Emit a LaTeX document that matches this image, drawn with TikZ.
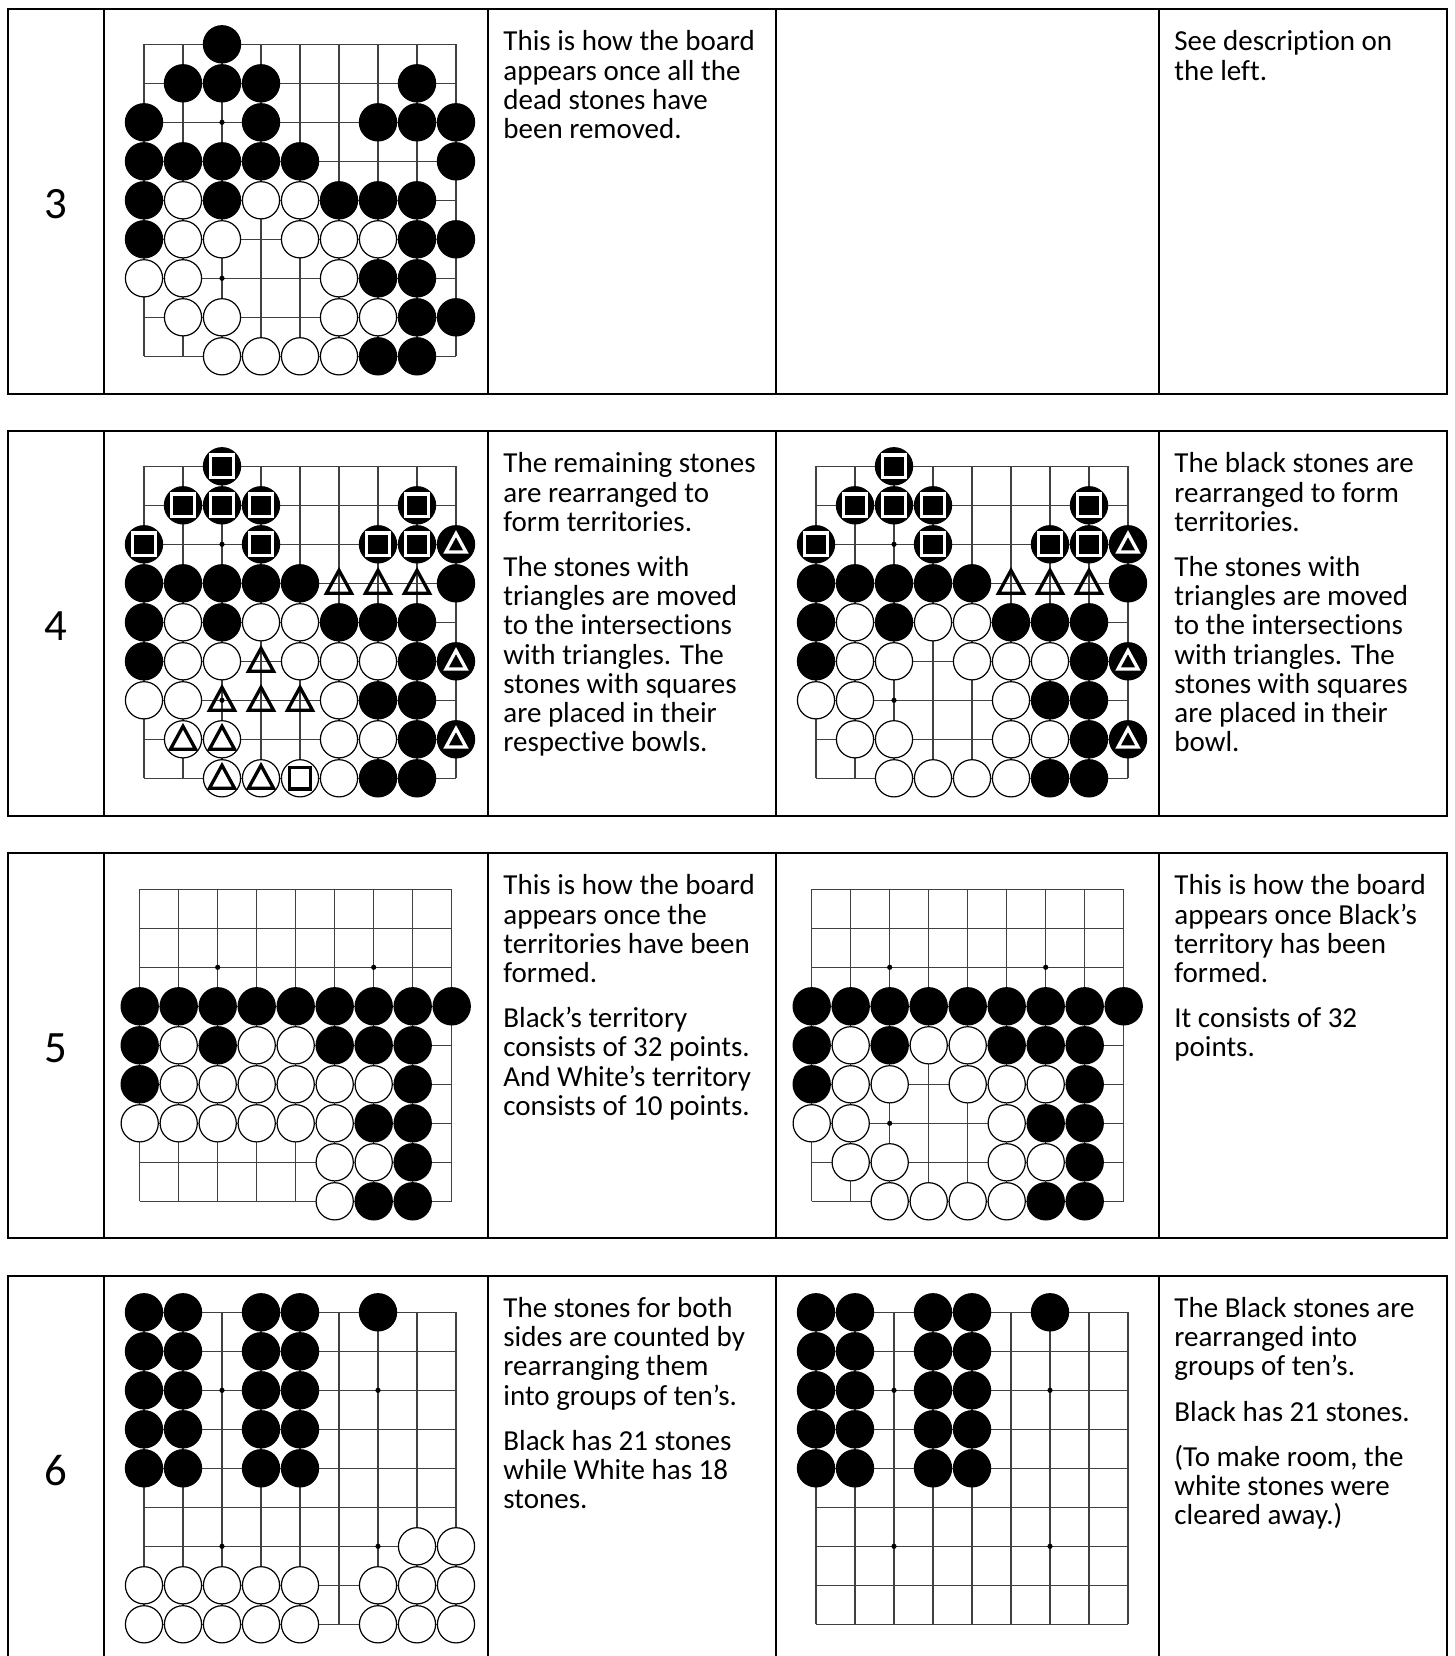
\documentclass[tikz,border=0pt]{standalone}
\usepackage{fontspec}
\setmainfont[Ligatures=NoCommon]{Carlito}
\tikzset{
  gridl/.style={line width=0.65pt, black!75},
  tbl/.style={line width=1pt},
  txt/.style={font=\fontsize{14.5}{14.6}\selectfont, align=left, anchor=north west, inner sep=0pt},
  num/.style={font=\fontsize{22.4}{26}\selectfont, inner sep=0pt},
}
\newcommand\topstrut{\rule{0pt}{12pt}}
\newcommand\gogrid{%
  \foreach \i in {0,...,8}{\draw[gridl] (\i*39,0) -- (\i*39,312); \draw[gridl] (0,\i*39) -- (312,\i*39);}
  \foreach \a/\b in {2/2,6/2,2/6,6/6}{\fill (\a*39,\b*39) circle[radius=1.3pt];}}
\newcommand\bstones[1]{\foreach \a/\b in {#1}{\fill (\a*39,\b*39) circle[radius=9.6pt];}}
\newcommand\wstones[1]{\foreach \a/\b in {#1}{\draw[line width=0.6pt,fill=white] (\a*39,\b*39) circle[radius=9.3pt];}}
\newcommand\sqw[1]{\foreach \a/\b in {#1}{\draw[white,line width=1.65pt] (\a*39,\b*39) ++(-5.6pt,-5.6pt) rectangle ++(11.2pt,11.2pt);}}
\newcommand\sqb[1]{\foreach \a/\b in {#1}{\draw[black,line width=1.65pt] (\a*39,\b*39) ++(-5.4pt,-5.4pt) rectangle ++(10.8pt,10.8pt);}}
\newcommand\trie[1]{\foreach \a/\b in {#1}{\draw[black,line width=1.65pt] (\a*39,\b*39) ++(0pt,6.5pt) -- ++(6.3pt,-11.5pt) -- ++(-12.6pt,0pt) -- cycle;}}
\newcommand\triw[1]{\foreach \a/\b in {#1}{\draw[white,line width=1.65pt] (\a*39,\b*39) ++(0pt,5.35pt) -- ++(5pt,-9.2pt) -- ++(-10pt,0pt) -- cycle;}}
\newcommand\rowbox[1]{%
  \draw[tbl] (8.4,#1) rectangle (1447,#1+385);
  \foreach \x in {103.5,488,776,1159}{\draw[tbl] (\x,#1) -- (\x,#1+385);}}
% board stone sets
\newcommand\blackA{2/0,1/1,2/1,3/1,7/1,0/2,3/2,6/2,7/2,8/2,0/3,1/3,2/3,3/3,4/3,8/3,0/4,2/4,5/4,6/4,7/4,0/5,7/5,8/5,6/6,7/6,7/7,8/7,6/8,7/8}
\newcommand\whiteA{1/4,3/4,4/4,1/5,2/5,4/5,5/5,6/5,0/6,1/6,5/6,1/7,2/7,5/7,6/7,2/8,3/8,4/8,5/8}
\begin{document}
\begin{tikzpicture}[x=0.5pt,y=-0.5pt]
\useasboundingbox[fill=white] (0,0) rectangle (1455,1656);

% ---------- Row 3 ----------
\rowbox{9}
\node[num] (n3) at (55.5,204) {3};
\begin{scope}[shift={(144,44.3)}]
  \gogrid
  \expandafter\bstones\expandafter{\blackA}
  \expandafter\wstones\expandafter{\whiteA}
\end{scope}
\node[txt] (t3a) at (503,26.5) {\topstrut This is how the board\\appears once all the\\dead stones have\\been removed.};
\node[txt] (t3c) at (1174,26.5) {\topstrut See description on\\the left.};

% ---------- Row 4 ----------
\rowbox{431}
\node[num] (n4) at (55.5,626) {4};
\begin{scope}[shift={(144,466.3)}]
  \gogrid
  \expandafter\bstones\expandafter{\blackA}
  \expandafter\wstones\expandafter{\whiteA}
  \sqw{2/0,1/1,2/1,3/1,7/1,0/2,3/2,6/2,7/2}
  \triw{8/2,8/5,8/7}
  \trie{5/3,6/3,7/3,3/5,2/6,3/6,4/6,1/7,2/7,2/8,3/8}
  \sqb{4/8}
\end{scope}
\begin{scope}[shift={(816,466.3)}]
  \gogrid
  \expandafter\bstones\expandafter{\blackA}
  \expandafter\wstones\expandafter{\whiteA}
  \sqw{2/0,1/1,2/1,3/1,7/1,0/2,3/2,6/2,7/2}
  \triw{8/2,8/5,8/7}
  \trie{5/3,6/3,7/3}
\end{scope}
\node[txt] (t4a) at (503,448.5) {\topstrut The remaining stones\\are rearranged to\\form territories.\\[8pt]The stones with\\triangles are moved\\to the intersections\\with triangles. The\\stones with squares\\are placed in their\\respective bowls.};
\node[txt] (t4c) at (1174,448.5) {\topstrut The black stones are\\rearranged to form\\territories.\\[8pt]The stones with\\triangles are moved\\to the intersections\\with triangles. The\\stones with squares\\are placed in their\\bowl.};

% ---------- Row 5 ----------
\rowbox{853}
\node[num] (n5) at (55.5,1048) {5};
\begin{scope}[shift={(139.7,889.3)}]
  \gogrid
  \bstones{0/3,1/3,2/3,3/3,4/3,5/3,6/3,7/3,8/3,0/4,2/4,5/4,6/4,7/4,0/5,7/5,6/6,7/6,7/7,6/8,7/8}
  \wstones{1/4,3/4,4/4,1/5,2/5,3/5,4/5,5/5,6/5,0/6,1/6,2/6,3/6,4/6,5/6,5/7,6/7,5/8}
\end{scope}
\begin{scope}[shift={(811.7,889.3)}]
  \gogrid
  \bstones{0/3,1/3,2/3,3/3,4/3,5/3,6/3,7/3,8/3,0/4,2/4,5/4,6/4,7/4,0/5,7/5,6/6,7/6,7/7,6/8,7/8}
  \wstones{1/4,3/4,4/4,1/5,2/5,4/5,5/5,6/5,0/6,1/6,5/6,1/7,2/7,5/7,6/7,2/8,3/8,4/8,5/8}
\end{scope}
\node[txt] (t5a) at (503,870.5) {\topstrut This is how the board\\appears once the\\territories have been\\formed.\\[8pt]Black’s territory\\consists of 32 points.\\And White’s territory\\consists of 10 points.};
\node[txt] (t5c) at (1174,870.5) {\topstrut This is how the board\\appears once Black’s\\territory has been\\formed.\\[8pt]It consists of 32\\points.};

% ---------- Row 6 ----------
\rowbox{1276}
\node[num] (n6) at (55.5,1471) {6};
\begin{scope}[shift={(144,1312.3)}]
  \gogrid
  \bstones{0/0,0/1,0/2,0/3,0/4,1/0,1/1,1/2,1/3,1/4,3/0,3/1,3/2,3/3,3/4,4/0,4/1,4/2,4/3,4/4,6/0}
  \wstones{7/6,8/6,0/7,1/7,2/7,3/7,4/7,6/7,7/7,8/7,0/8,1/8,2/8,3/8,4/8,6/8,7/8,8/8}
\end{scope}
\begin{scope}[shift={(816,1312.3)}]
  \gogrid
  \bstones{0/0,0/1,0/2,0/3,0/4,1/0,1/1,1/2,1/3,1/4,3/0,3/1,3/2,3/3,3/4,4/0,4/1,4/2,4/3,4/4,6/0}
\end{scope}
\node[txt] (t6a) at (503,1293) {\topstrut The stones for both\\sides are counted by\\rearranging them\\into groups of ten’s.\\[8pt]Black has 21 stones\\while White has 18\\stones.};
\node[txt] (t6c) at (1174,1293) {\topstrut The Black stones are\\rearranged into\\groups of ten’s.\\[8pt]Black has 21 stones.\\[8pt](To make room, the\\white stones were\\cleared away.)};
\end{tikzpicture}
\end{document}
